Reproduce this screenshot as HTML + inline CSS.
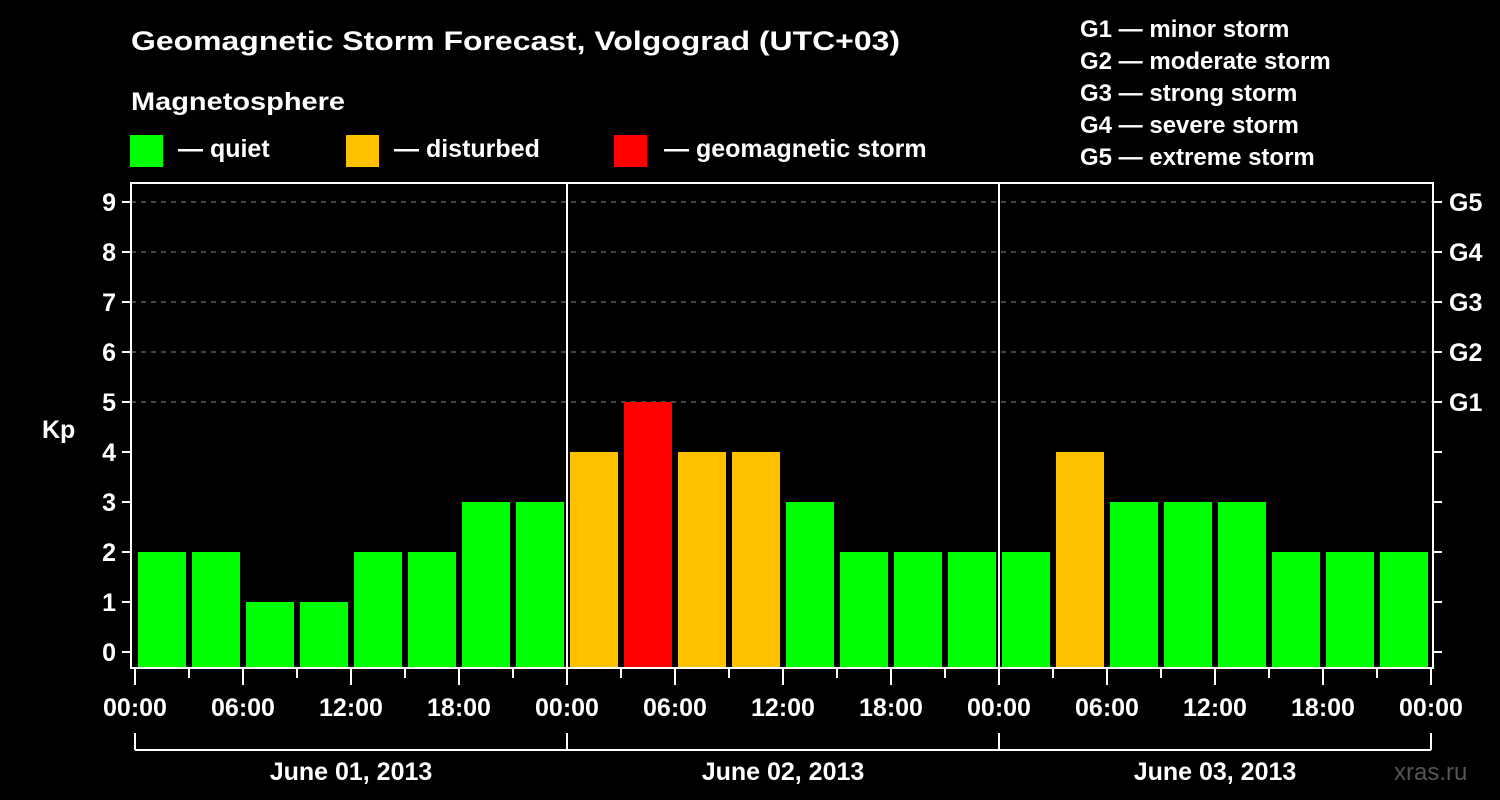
<!DOCTYPE html>
<html><head><meta charset="utf-8"><style>
html,body{margin:0;padding:0;background:#000;}
svg{display:block;font-family:"Liberation Sans",Arial,sans-serif;font-weight:bold;}
</style></head><body>
<svg id="chart" width="1500" height="800" viewBox="0 0 1500 800">
<rect x="0" y="0" width="1500" height="800" fill="#000"/>
<text x="131" y="50" fill="#fff" font-size="27" textLength="769" lengthAdjust="spacingAndGlyphs">Geomagnetic Storm Forecast, Volgograd (UTC+03)</text>
<text x="131" y="110" fill="#fff" font-size="25" textLength="214" lengthAdjust="spacingAndGlyphs">Magnetosphere</text>
<g><rect x="130" y="135" width="33" height="32" fill="#00ff00"/><text x="178" y="157" fill="#fff" font-size="25">— quiet</text></g>
<g><rect x="346" y="135" width="33" height="32" fill="#ffc000"/><text x="394" y="157" fill="#fff" font-size="25">— disturbed</text></g>
<g><rect x="614" y="135" width="33" height="32" fill="#ff0000"/><text x="664" y="157" fill="#fff" font-size="25">— geomagnetic storm</text></g>
<g fill="#fff" font-size="24">
<text x="1080" y="37">G1 — minor storm</text>
<text x="1080" y="69">G2 — moderate storm</text>
<text x="1080" y="101">G3 — strong storm</text>
<text x="1080" y="133">G4 — severe storm</text>
<text x="1080" y="165">G5 — extreme storm</text>
</g>
<g id="plot"></g>
<text x="1394" y="780" fill="#555" font-size="24" font-weight="normal">xras.ru</text>
</svg>
<script>
const kpValues = [2,2,1,1,2,2,3,3, 4,5,4,4,3,2,2,2, 2,4,3,3,3,2,2,2];
const yTicks = [0,1,2,3,4,5,6,7,8,9];
const gLabels = ["G1","G2","G3","G4","G5"];
const gLevels = [5,6,7,8,9];
const dayLabels = ["June 01, 2013","June 02, 2013","June 03, 2013"];
const hourLabels = ["00:00","06:00","12:00","18:00"];

const NS="http://www.w3.org/2000/svg";
const g=document.getElementById('plot');
const X0=135, HOUR=18, Y0=652, UNIT=50, LEFT=131, RIGHT=1433, TOP=183, BOT=668;
const xh=h=>X0+h*HOUR;
const yv=v=>Y0-v*UNIT;
function mk(tag,attrs){const e=document.createElementNS(NS,tag);for(const k in attrs)e.setAttribute(k,attrs[k]);g.appendChild(e);return e;}
function color(v){return v>=5?'#ff0000':(v>=4?'#ffc000':'#00ff00');}

// grid
gLevels.forEach(v=>{
  const l=mk('line',{x1:LEFT,x2:RIGHT,y1:yv(v),y2:yv(v),stroke:'#888','stroke-width':1,'stroke-dasharray':'5,5'});
  
  
});
// bars
kpValues.forEach((v,i)=>{
  const x=xh(i*3)+3;
  const r=mk('rect',{x:x,y:yv(v),width:48,height:BOT-1-yv(v),fill:color(v)});
  
  
});
// day dividers
for(let d=1;d<dayLabels.length;d++){
  const l=mk('line',{x1:xh(d*24),x2:xh(d*24),y1:TOP,y2:BOT,stroke:'#fff','stroke-width':2});
  
  
}
// frame
const fr=mk('rect',{x:LEFT,y:TOP,width:RIGHT-LEFT,height:BOT-TOP,fill:'none',stroke:'#fff','stroke-width':2});


// y ticks
yTicks.forEach(v=>{
  mk('line',{x1:122,x2:LEFT,y1:yv(v),y2:yv(v),stroke:'#fff','stroke-width':2});
  mk('line',{x1:RIGHT,x2:1442,y1:yv(v),y2:yv(v),stroke:'#fff','stroke-width':2});
  const t=mk('text',{x:116,y:yv(v)+9,fill:'#fff','font-size':25,'text-anchor':'end'});
  t.textContent=v;
  
  
});
gLevels.forEach((v,i)=>{
  const t=mk('text',{x:1449,y:yv(v)+9,fill:'#fff','font-size':25});
  t.textContent=gLabels[i];
  
  
});
const kp=mk('text',{x:42,y:438,fill:'#fff','font-size':25});
kp.textContent='Kp';


// x ticks
const totalH=dayLabels.length*24;
for(let h=0;h<=totalH;h+=3){
  const major=h%6===0;
  mk('line',{x1:xh(h),x2:xh(h),y1:BOT,y2:major?685:678,stroke:'#fff','stroke-width':2});
  if(major){
    const t=mk('text',{x:xh(h),y:716,fill:'#fff','font-size':25,'text-anchor':'middle'});
    t.textContent=h===totalH?hourLabels[0]:hourLabels[(h/6)%4];
    
    
  }
}
// day brackets
mk('line',{x1:xh(0),x2:xh(totalH),y1:750,y2:750,stroke:'#fff','stroke-width':2});
for(let d=0;d<=dayLabels.length;d++){
  mk('line',{x1:xh(d*24),x2:xh(d*24),y1:733,y2:750,stroke:'#fff','stroke-width':2});
}
dayLabels.forEach((s,d)=>{
  const t=mk('text',{x:xh(d*24+12),y:780,fill:'#fff','font-size':25,'text-anchor':'middle'});
  t.textContent=s;
  
  
});
</script>
</body></html>
